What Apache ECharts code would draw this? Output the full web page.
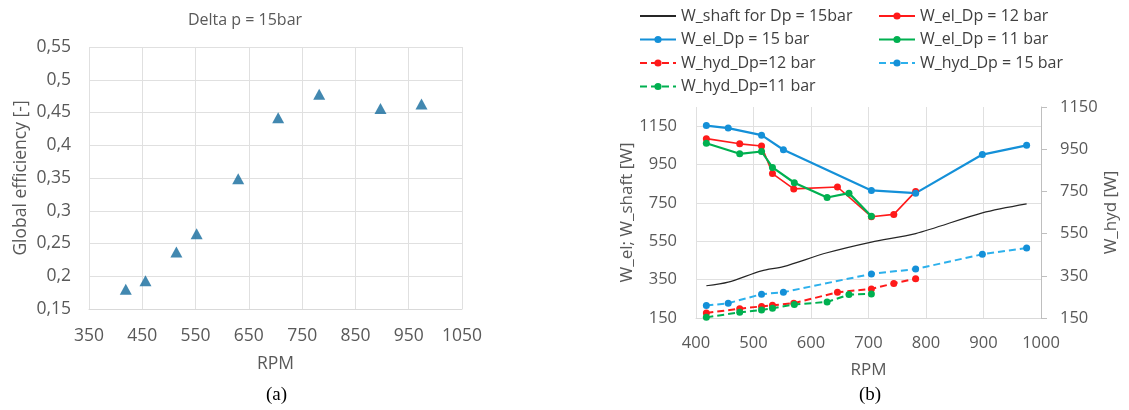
<!DOCTYPE html>
<html>
<head>
<meta charset="utf-8">
<script src="https://cdn.jsdelivr.net/npm/echarts@6/dist/echarts.min.js"></script>
<style>
    html, body { margin: 0; padding: 0; background: #fff; }
    .chart { width: 1129px; height: 410px; }
</style>
</head>
<body>
<div class="chart"></div>
<script>
//(a) 效率
const effRpm = [419, 456, 514, 552, 630, 705, 782, 897, 974]
const effVal = [0.180, 0.193, 0.237, 0.265, 0.349, 0.442, 0.478, 0.456, 0.463]

//(b) 功率
const rpm15 = [418, 456, 514, 552, 705, 782, 898, 975]
const el15 = [1153, 1140, 1103, 1027, 815, 801, 1002, 1050]
const hyd15 = [209, 220, 263, 272, 359, 382, 452, 482]

const rpm12 = [418, 476, 514, 533, 570, 646, 705, 744, 782]
const el12 = [1085, 1058, 1047, 903, 823, 833, 678, 690, 810]
const hyd12 = [174, 194, 205, 210, 220, 272, 288, 314, 336]

const rpm11 = [418, 476, 514, 533, 571, 628, 666, 705]
const el11 = [1061, 1006, 1018, 935, 855, 778, 801, 680]
const hyd11 = [153, 177, 188, 196, 214, 226, 261, 264]

const shaftRpm = [418, 456, 514, 552, 628, 705, 782, 898, 975]
const shaft = [318, 337, 396, 418, 490, 546, 590, 698, 745]

const xTicksA = [350, 1050, 100]
const yTicksA = [0.15, 0.55, 0.05]
const xTicksB = [400, 1000, 100]
const yTicksB = [150, 1250, 200]
const yTicksHyd = [150, 1150, 200]

const pairs = (xs, ys) => xs.map((x, i) => [x, ys[i]]);

(function () {
    const dom = document.querySelector(".chart")
    const chart = echarts.init(dom)
    const font = "'Open Sans', sans-serif"
    const grey = '#595959'
    const gridColor = '#e0e0e0'
    //不要千位分隔符
    const plain = v => String(v)

    const lineSeries = (name, xs, ys, color, width, dashed, yIndex, lineColor) => ({
        name: name,
        type: 'line',
        xAxisIndex: 1,
        yAxisIndex: yIndex,
        data: pairs(xs, ys),
        symbol: 'circle',
        symbolSize: 7,
        showSymbol: true,
        itemStyle: { color: color },
        lineStyle: {
            color: lineColor || color,
            width: width,
            type: dashed ? [7, 4] : 'solid'
        },
        emphasis: { disabled: true }
    })

    const legendBase = {
        orient: 'vertical',
        top: 3,
        itemWidth: 36,
        itemHeight: 9,
        itemGap: 7.5,
        textStyle: { fontFamily: font, fontSize: 16, color: '#404040', lineHeight: 16 }
    }

    const option = {
        animation: false,
        title: {
            text: 'Delta p = 15bar',
            left: 240,
            top: 7,
            textAlign: 'center',
            textStyle: { fontFamily: font, fontSize: 16, fontWeight: 'normal', color: grey }
        },
        legend: [
            Object.assign({}, legendBase, {
                left: 634,
                data: [
                    { name: 'W_shaft for Dp = 15bar', itemStyle: { opacity: 0 } },
                    'W_el_Dp = 15 bar', 'W_hyd_Dp=12 bar', 'W_hyd_Dp=11 bar'
                ]
            }),
            Object.assign({}, legendBase, {
                left: 873,
                data: ['W_el_Dp = 12 bar', 'W_el_Dp = 11 bar', 'W_hyd_Dp = 15 bar']
            })
        ],
        grid: [
            { left: 89, top: 47, width: 373, height: 262 },
            { left: 696, top: 107, width: 345, height: 211 }
        ],
        xAxis: [
            {
                gridIndex: 0,
                type: 'value',
                min: xTicksA[0],
                max: xTicksA[1],
                interval: xTicksA[2],
                name: 'RPM',
                nameLocation: 'middle',
                nameGap: 46,
                nameTextStyle: { fontFamily: font, fontSize: 17.5, color: grey },
                axisLine: { show: true, lineStyle: { color: '#d9d9d9' } },
                axisTick: { show: false },
                axisLabel: { fontFamily: font, fontSize: 17.5, color: grey, margin: 18, formatter: plain },
                splitLine: { show: true, lineStyle: { color: gridColor } }
            },
            {
                gridIndex: 1,
                type: 'value',
                min: xTicksB[0],
                max: xTicksB[1],
                interval: xTicksB[2],
                name: 'RPM',
                nameLocation: 'middle',
                nameGap: 44,
                nameTextStyle: { fontFamily: font, fontSize: 17, color: grey },
                axisLine: { show: true, lineStyle: { color: '#d9d9d9' } },
                axisTick: { show: false },
                axisLabel: { fontFamily: font, fontSize: 16.5, color: grey, margin: 17, formatter: plain },
                splitLine: { show: true, lineStyle: { color: gridColor } }
            }
        ],
        yAxis: [
            {
                gridIndex: 0,
                type: 'value',
                min: yTicksA[0],
                max: yTicksA[1],
                interval: yTicksA[2],
                name: 'Global efficiency [-]',
                nameLocation: 'middle',
                nameGap: 59,
                nameTextStyle: { fontFamily: font, fontSize: 17.5, color: grey },
                axisLine: { show: false },
                axisTick: { show: false },
                axisLabel: {
                    fontFamily: font, fontSize: 17.5, color: grey, margin: 18,
                    //小数点用逗号
                    formatter: v => String(+v.toFixed(2)).replace('.', ',')
                },
                splitLine: { show: true, lineStyle: { color: gridColor } }
            },
            {
                gridIndex: 1,
                type: 'value',
                position: 'left',
                min: yTicksB[0],
                max: yTicksB[1],
                interval: yTicksB[2],
                name: 'W_el; W_shaft [W]',
                nameLocation: 'middle',
                nameGap: 60,
                nameTextStyle: { fontFamily: font, fontSize: 17, color: grey },
                axisLine: { show: false },
                axisTick: { show: false },
                axisLabel: { fontFamily: font, fontSize: 16.5, color: grey, margin: 19, showMaxLabel: false, formatter: plain },
                splitLine: { show: true, showMaxLine: false, lineStyle: { color: gridColor } }
            },
            {
                gridIndex: 1,
                type: 'value',
                position: 'right',
                min: yTicksHyd[0],
                max: yTicksHyd[1],
                interval: yTicksHyd[2],
                name: 'W_hyd [W]',
                nameLocation: 'middle',
                nameGap: 62,
                nameTextStyle: { fontFamily: font, fontSize: 17, color: grey },
                axisLine: { show: true, lineStyle: { color: '#bfbfbf' } },
                axisTick: { show: true, length: 6, lineStyle: { color: '#bfbfbf' } },
                axisLabel: { fontFamily: font, fontSize: 16.5, color: grey, margin: 19, formatter: plain },
                splitLine: { show: false }
            }
        ],
        graphic: [
            {
                type: 'text', left: 266, top: 386,
                style: { text: '(a)', font: "19px 'Liberation Serif', serif", fill: '#000' }
            },
            {
                type: 'text', left: 859, top: 386,
                style: { text: '(b)', font: "19px 'Liberation Serif', serif", fill: '#000' }
            }
        ],
        series: [
            {
                name: 'efficiency',
                type: 'scatter',
                xAxisIndex: 0,
                yAxisIndex: 0,
                data: pairs(effRpm, effVal),
                symbol: 'triangle',
                symbolSize: [12, 11],
                itemStyle: { color: '#136a9c' }
            },
            {
                name: 'W_shaft for Dp = 15bar',
                type: 'line',
                xAxisIndex: 1,
                yAxisIndex: 1,
                data: pairs(shaftRpm, shaft),
                smooth: 0.3,
                symbol: 'none',
                lineStyle: { color: '#262626', width: 1.2 },
                itemStyle: { color: '#262626' }
            },
            lineSeries('W_el_Dp = 12 bar', rpm12, el12, '#ff1a1a', 1.6, false, 1),
            lineSeries('W_el_Dp = 15 bar', rpm15, el15, '#1490d8', 2.2, false, 1),
            lineSeries('W_el_Dp = 11 bar', rpm11, el11, '#00b050', 2.2, false, 1),
            lineSeries('W_hyd_Dp=12 bar', rpm12, hyd12, '#ff1a1a', 2, true, 2),
            lineSeries('W_hyd_Dp = 15 bar', rpm15, hyd15, '#1490d8', 2, true, 2, '#2cb0ec'),
            lineSeries('W_hyd_Dp=11 bar', rpm11, hyd11, '#00b050', 2, true, 2)
        ]
    }

    chart.setOption(option)
    window.addEventListener("resize", () => {
        chart.resize()
    })
})();
</script>
</body>
</html>
